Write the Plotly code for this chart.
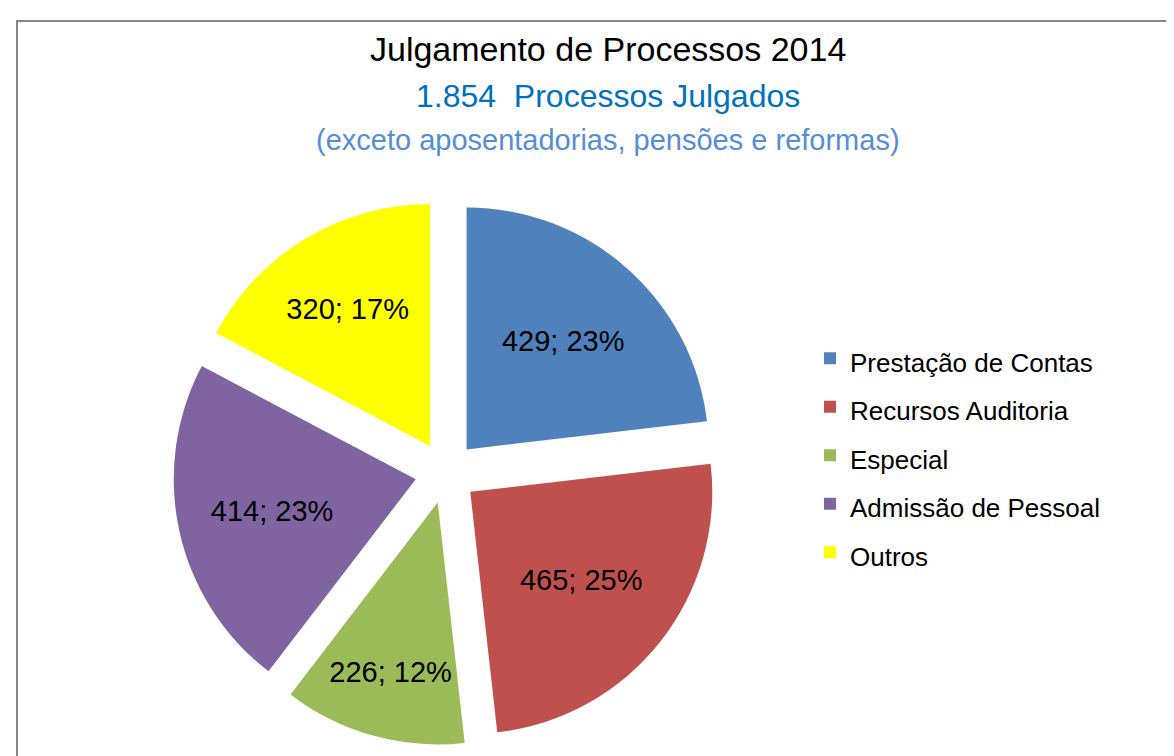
import plotly.graph_objects as go

categories = ["Prestação de Contas", "Recursos Auditoria", "Especial",
              "Admissão de Pessoal", "Outros"]
values = [429, 465, 226, 414, 320]
pct_labels = ["23%", "25%", "12%", "23%", "17%"]
colors = ["#4F81BD", "#C0504D", "#9BBB59", "#8064A2", "#FFFF00"]

title_lines = ["Julgamento de Processos 2014",
               "1.854  Processos Julgados",
               "(exceto aposentadorias, pensões e reformas)"]

W, H = 1174, 756
FONT = "Liberation Sans, Arial, sans-serif"

legend_labels = [f"<span style='font-size:26px'>{c}</span>" for c in categories]

# pie geometry (pixels)
cx, cy, R, pull = 438, 464.6, 242, 0.128
half = R * (1 + pull)

fig = go.Figure(go.Pie(
    labels=legend_labels,
    values=values,
    customdata=pct_labels,
    texttemplate="%{value}; %{customdata}",
    textposition="inside",
    insidetextorientation="horizontal",
    textfont=dict(family=FONT, size=29, color="#000000"),
    marker=dict(colors=colors, line=dict(width=0)),
    pull=[pull] * len(values),
    sort=False,
    direction="clockwise",
    rotation=0,
    domain=dict(x=[(cx - half) / W, (cx + half) / W],
                y=[(H - cy - half) / H, (H - cy + half) / H]),
    hoverinfo="label+value",
))

ann = []
ys = [41, 88, 132]
sizes = [34, 32, 29]
cols = ["#000000", "#0070C0", "#558ED5"]
for t, y, s, c in zip(title_lines, ys, sizes, cols):
    ann.append(dict(text=t, x=600 / W, y=1 - y / H, xref="paper", yref="paper",
                    xanchor="center", yanchor="middle", showarrow=False,
                    font=dict(family=FONT, size=s, color=c)))

fig.update_layout(
    width=W, height=H,
    margin=dict(l=0, r=0, t=0, b=0),
    paper_bgcolor="white", plot_bgcolor="white",
    annotations=ann,
    showlegend=True,
    legend=dict(x=802 / W, y=1 - 321 / H, xanchor="left", yanchor="top",
                font=dict(family=FONT, size=35, color="#000000"),
                bgcolor="rgba(0,0,0,0)"),
    uniformtext=dict(minsize=29, mode="show"),
    shapes=[dict(type="rect", xref="paper", yref="paper",
                 x0=9 / W, x1=1.02, y0=-0.02, y1=1 - 13 / H,
                 line=dict(color="#868686", width=2), layer="below")],
)

fig.write_html("out.html")
